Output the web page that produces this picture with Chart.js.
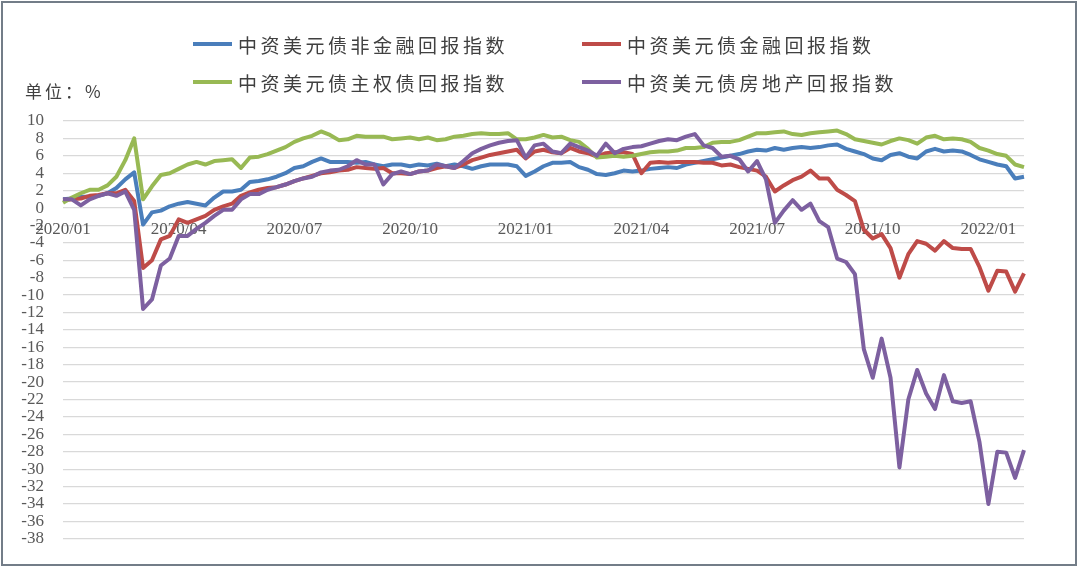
<!DOCTYPE html>
<html>
<head>
<meta charset="utf-8">
<script src="https://cdn.jsdelivr.net/npm/chart.js@4.4.1/dist/chart.umd.min.js"></script>
<style>
  body { margin: 0; background: #fff; }
  #wrap { position: relative; width: 1080px; height: 568px; }
  #chart { position: absolute; left: 0; top: 0; }
  #frame { position: absolute; left: 1px; top: 1px; width: 1076px; height: 565px;
           box-sizing: border-box; border: 2px solid #737d88; pointer-events: none; }
  #unit { position: absolute; left: 25px; top: 78px; font: 17px "Noto Sans CJK SC"; letter-spacing: 3px; color: #404040; }
  .item { position: absolute; display: flex; align-items: center; height: 24px;
          font: 19px "Noto Sans CJK SC"; letter-spacing: 3.5px; color: #404040; }
  .item i { display: inline-block; width: 39px; height: 4px; margin-right: 6px; }
</style>
</head>
<body>
<div id="wrap">
  <canvas id="chart" width="1080" height="568"></canvas>
  <div id="legend"></div>
  <div id="unit">单位：%</div>
  <div id="frame"></div>
</div>
<script>
// weekly samples, 2020/01 .. 2022/01
const seriesNames = ['中资美元债非金融回报指数', '中资美元债金融回报指数', '中资美元债主权债回报指数', '中资美元债房地产回报指数'];
const seriesColors = ['#4a7ebb', '#be4b48', '#98b954', '#7d60a0'];
const quarterTicks = ['2020/01', '2020/04', '2020/07', '2020/10', '2021/01', '2021/04', '2021/07', '2021/10', '2022/01'];

const nonFinancial = [
  1.0, 1.1, 1.3, 1.3, 1.4, 1.7, 2.3, 3.3, 4.1, -1.9,
  -0.5, -0.3, 0.2, 0.5, 0.7, 0.5, 0.3, 1.2, 1.9, 1.9,
  2.1, 3.0, 3.1, 3.3, 3.6, 4.0, 4.6, 4.8, 5.3, 5.7,
  5.3, 5.3, 5.3, 5.2, 5.3, 5.0, 4.8, 5.0, 5.0, 4.8,
  5.0, 4.9, 5.1, 4.8, 5.0, 4.8, 4.5, 4.8, 5.0, 5.0,
  5.0, 4.8, 3.7, 4.2, 4.8, 5.2, 5.2, 5.3, 4.7, 4.4,
  3.9, 3.8, 4.0, 4.3, 4.2, 4.3, 4.5, 4.6, 4.7, 4.6,
  5.0, 5.2, 5.4, 5.6, 5.8, 6.0, 6.2, 6.5, 6.7, 6.6,
  6.9, 6.7, 6.9, 7.0, 6.9, 7.0, 7.2, 7.3, 6.8, 6.5,
  6.2, 5.7, 5.5, 6.1, 6.3, 5.9, 5.7, 6.5, 6.8, 6.5,
  6.6, 6.5, 6.1, 5.6, 5.3, 5.0, 4.8, 3.4, 3.6
];
const financial = [
  0.9, 1.0, 1.1, 1.4, 1.5, 1.7, 1.7, 2.1, 0.8, -6.9,
  -6.0, -3.6, -3.2, -1.3, -1.7, -1.3, -0.9, -0.2, 0.2, 0.5,
  1.4, 1.8, 2.1, 2.3, 2.4, 2.7, 3.1, 3.4, 3.7, 4.0,
  4.1, 4.3, 4.4, 4.7, 4.6, 4.5, 4.6, 4.0, 4.0, 3.9,
  4.2, 4.3, 4.6, 4.8, 4.6, 5.0, 5.5, 5.8, 6.1, 6.3,
  6.5, 6.7, 5.7, 6.5, 6.7, 6.4, 6.3, 6.9, 6.5, 6.3,
  5.9, 6.3, 6.4, 6.4, 6.2, 4.0, 5.2, 5.3, 5.2, 5.3,
  5.3, 5.3, 5.2, 5.2, 4.9, 5.0, 4.7, 4.5, 4.3, 3.6,
  1.9, 2.6, 3.2, 3.6, 4.3, 3.4, 3.4, 2.1, 1.5, 0.8,
  -2.5, -3.5, -3.0, -4.6, -8.0, -5.3, -3.8, -4.1, -4.9, -3.8,
  -4.6, -4.7, -4.7, -6.8, -9.5, -7.2, -7.3, -9.6, -7.5
];
const sovereign = [
  0.6, 1.2, 1.7, 2.1, 2.1, 2.6, 3.6, 5.5, 8.0, 1.0,
  2.5, 3.8, 4.0, 4.5, 5.0, 5.3, 5.0, 5.4, 5.5, 5.6,
  4.6, 5.8, 5.9, 6.2, 6.6, 7.0, 7.6, 8.0, 8.3, 8.8,
  8.4, 7.8, 7.9, 8.3, 8.2, 8.2, 8.2, 7.9, 8.0, 8.1,
  7.9, 8.1, 7.8, 7.9, 8.2, 8.3, 8.5, 8.6, 8.5, 8.5,
  8.6, 7.9, 7.9, 8.1, 8.4, 8.1, 8.2, 7.8, 7.6, 6.8,
  5.8, 5.9, 6.0, 5.9, 6.0, 6.2, 6.4, 6.5, 6.5, 6.6,
  6.9, 6.9, 7.0, 7.5, 7.6, 7.6, 7.8, 8.2, 8.6, 8.6,
  8.7, 8.8, 8.5, 8.4, 8.6, 8.7, 8.8, 8.9, 8.5, 7.9,
  7.7, 7.5, 7.3, 7.7, 8.0, 7.8, 7.4, 8.1, 8.3, 7.9,
  8.0, 7.9, 7.6, 6.9, 6.6, 6.2, 6.0, 5.0, 4.7
];
const property = [
  1.0, 1.0, 0.3, 1.0, 1.4, 1.7, 1.4, 1.9, -0.2, -11.6,
  -10.5, -6.6, -5.8, -3.2, -3.2, -2.4, -1.7, -0.9, -0.2, -0.2,
  1.0, 1.6, 1.6, 2.1, 2.4, 2.7, 3.1, 3.4, 3.6, 4.1,
  4.3, 4.4, 4.8, 5.5, 5.0, 5.0, 2.7, 3.9, 4.2, 3.9,
  4.2, 4.3, 5.0, 4.8, 4.6, 5.4, 6.3, 6.8, 7.2, 7.5,
  7.7, 7.8, 5.8, 7.2, 7.4, 6.5, 6.3, 7.4, 7.0, 6.6,
  6.0, 7.4, 6.3, 6.8, 7.0, 7.1, 7.4, 7.7, 7.9, 7.8,
  8.2, 8.5, 7.2, 6.9, 5.9, 6.0, 5.6, 4.2, 5.4, 3.3,
  -1.7, -0.3, 0.9, -0.2, 0.5, -1.5, -2.2, -5.8, -6.2, -7.6,
  -16.2, -19.5, -15.0, -19.5, -29.8, -22.0, -18.6, -21.3, -23.1, -19.2,
  -22.2, -22.4, -22.2, -26.9, -34.0, -28.0, -28.1, -31.0, -27.8
];

// weekly dates (Mondays) from 2020/01/06 to 2022/01/31
const weeks = [];
for (let d = new Date(Date.UTC(2020, 0, 6)); d <= new Date(Date.UTC(2022, 0, 31)); d.setUTCDate(d.getUTCDate() + 7)) {
  const m = String(d.getUTCMonth() + 1).padStart(2, '0');
  const day = String(d.getUTCDate()).padStart(2, '0');
  weeks.push(d.getUTCFullYear() + '/' + m + '/' + day);
}

const values = [nonFinancial, financial, sovereign, property];
const drawOrder = [3, 2, 1, 0]; // later series sit on top

// legend, two columns
const legendPos = [[193, 32], [582, 32], [193, 70], [582, 70]];
const legend = document.getElementById('legend');
seriesNames.forEach((name, i) => {
  const el = document.createElement('div');
  el.className = 'item';
  el.style.left = legendPos[i][0] + 'px';
  el.style.top = legendPos[i][1] + 'px';
  el.innerHTML = '<i style="background:' + seriesColors[i] + '"></i><span>' + name + '</span>';
  legend.appendChild(el);
});

const tickFont = { family: '"Liberation Serif", "Times New Roman", serif', size: 17 };

new Chart(document.getElementById('chart'), {
  type: 'line',
  data: {
    labels: weeks,
    datasets: values.map((v, i) => ({
      label: seriesNames[i],
      data: v,
      borderColor: seriesColors[i],
      backgroundColor: seriesColors[i],
      borderWidth: 4,
      pointRadius: 0,
      tension: 0,
      borderJoinStyle: 'round',
      order: drawOrder[i]
    }))
  },
  options: {
    responsive: false,
    animation: false,
    layout: { padding: { top: 121, right: 56, bottom: 25, left: 0 } },
    plugins: { legend: { display: false }, tooltip: { enabled: false } },
    scales: {
      x: {
        position: { y: 0 },
        grid: { display: false, drawTicks: false },
        border: { display: false },
        ticks: {
          autoSkip: false, maxRotation: 0, padding: 11,
          font: tickFont, color: '#595959',
          callback: function (value, index) {
            const ym = weeks[index].slice(0, 7);
            const prev = index > 0 ? weeks[index - 1].slice(0, 7) : '';
            return (ym !== prev && quarterTicks.includes(ym)) ? ym : '';
          }
        }
      },
      y: {
        min: -38, max: 10,
        ticks: { stepSize: 2, autoSkip: false, padding: 19, font: tickFont, color: '#595959' },
        grid: { color: '#d9d9d9', lineWidth: 1.3, drawTicks: false },
        border: { display: false },
        afterFit: function (scale) { scale.width = 63; }
      }
    }
  }
});
</script>
</body>
</html>
